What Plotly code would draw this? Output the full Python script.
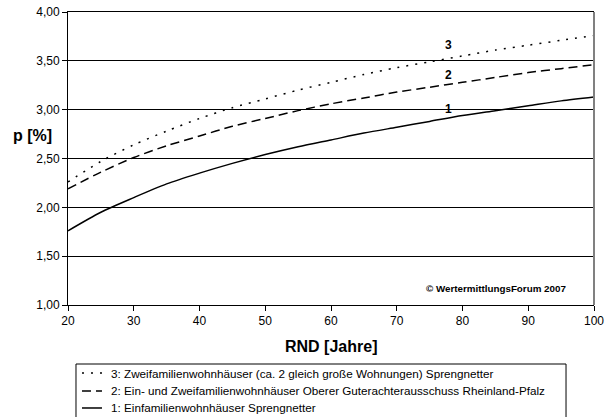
import plotly.graph_objects as go

# RND [Jahre]
rnd = [20, 25, 30, 35, 40, 45, 50, 55, 60, 65, 70, 75, 80, 85, 90, 95, 100]

# 1: Einfamilienwohnhäuser Sprengnetter
p1 = [1.76, 1.95, 2.10, 2.24, 2.35, 2.45, 2.54, 2.62, 2.69, 2.76, 2.82, 2.88,
      2.94, 2.99, 3.04, 3.09, 3.13]
# 2: Ein- und Zweifamilienwohnhäuser Oberer Gutachterausschuss Rheinland-Pfalz
p2 = [2.19, 2.36, 2.51, 2.63, 2.73, 2.83, 2.91, 2.99, 3.06, 3.12, 3.18, 3.23,
      3.28, 3.33, 3.38, 3.42, 3.46]
# 3: Zweifamilienwohnhäuser (ca. 2 gleich große Wohnungen) Sprengnetter
p3 = [2.26, 2.47, 2.64, 2.78, 2.91, 3.02, 3.11, 3.20, 3.28, 3.36, 3.43, 3.49,
      3.55, 3.61, 3.66, 3.71, 3.76]

names = [
    "1: Einfamilienwohnhäuser Sprengnetter",
    "2: Ein- und Zweifamilienwohnhäuser Oberer Guterachterausschuss Rheinland-Pfalz",
    "3: Zweifamilienwohnhäuser (ca. 2 gleich große Wohnungen) Sprengnetter",
]
x_ticks = [20, 30, 40, 50, 60, 70, 80, 90, 100]
y_ticks = [1.0, 1.5, 2.0, 2.5, 3.0, 3.5, 4.0]
curve_labels = ["1", "2", "3"]
label_x = 77.8
label_y = [3.01, 3.35, 3.66]

FONT = "Liberation Sans, Arial, sans-serif"
dashes = ["solid", "9px,5px", "2px,7px"]
series = [p1, p2, p3]

fig = go.Figure()
for ys, nm, ds in zip(series, names, dashes):
    fig.add_trace(go.Scatter(x=rnd, y=ys, mode="lines", name=nm, showlegend=False,
                             line=dict(color="black", width=1.5, dash=ds,
                                       shape="spline", smoothing=0.8)))

annotations = [
    dict(text="<b>p [%]</b>", xref="paper", yref="paper", x=-0.068, y=0.58,
         showarrow=False, xanchor="center", yanchor="middle",
         font=dict(size=16, color="black", family=FONT)),
    dict(text="<b>RND [Jahre]</b>", xref="paper", yref="paper", x=0.5, y=-0.143,
         showarrow=False, xanchor="center", yanchor="middle",
         font=dict(size=16, color="black", family=FONT)),
    dict(text="<b>© WertermittlungsForum 2007</b>", xref="paper", yref="paper",
         x=0.9506, y=0.058, showarrow=False, xanchor="right", yanchor="middle",
         font=dict(size=9.8, color="black", family=FONT)),
]
for lab, ly in zip(curve_labels, label_y):
    annotations.append(dict(text="<b>%s</b>" % lab, x=label_x, y=ly, xref="x", yref="y",
                            showarrow=False, xanchor="center", yanchor="middle",
                            font=dict(size=12, color="black", family=FONT)))

# hand-drawn legend box below the chart (order 3, 2, 1 from top)
shapes = [
    dict(type="line", xref="paper", yref="paper", x0=1, x1=1, y0=0, y1=1,
         line=dict(color="#808080", width=2)),
    dict(type="rect", xref="paper", yref="paper", x0=0.0152, x1=0.9468,
         y0=-0.46, y1=-0.2014, line=dict(color="black", width=1),
         fillcolor="rgba(0,0,0,0)"),
]
row_y = [-0.3515, -0.2935, -0.2321]
for nm, ds, ry in zip(names, dashes, row_y):
    shapes.append(dict(type="line", xref="paper", yref="paper", x0=0.0266, x1=0.0646,
                       y0=ry, y1=ry, line=dict(color="black", width=1.5, dash=ds)))
    annotations.append(dict(text=nm, xref="paper", yref="paper", x=0.0779, y=ry,
                            showarrow=False, xanchor="left", yanchor="middle",
                            font=dict(size=11.7, color="black", family=FONT)))

fig.update_layout(
    width=616, height=417,
    margin=dict(l=68, r=22, t=12, b=112, autoexpand=False),
    paper_bgcolor="white", plot_bgcolor="white",
    separators=", ",
    font=dict(family=FONT, color="black", size=12),
    showlegend=False,
    annotations=annotations,
    shapes=shapes,
)
fig.update_xaxes(range=[20, 100], tickvals=x_ticks, ticks="outside", ticklen=5,
                 tickcolor="black", showline=True, linecolor="black", linewidth=1,
                 mirror=True, showgrid=False, zeroline=False,
                 tickfont=dict(size=12, color="black", family=FONT))
fig.update_yaxes(range=[1, 4], tickvals=y_ticks, tickformat=".2f", ticks="outside",
                 ticklen=5, tickcolor="black", showline=True, linecolor="black",
                 linewidth=1, showgrid=True, gridcolor="black", gridwidth=1,
                 zeroline=False, ticklabeloverflow="allow",
                 tickfont=dict(size=12, color="black", family=FONT))

fig.write_html("out.html",
               config={"displayModeBar": False},
               post_script="document.body.style.margin='0';document.body.style.overflow='hidden';")
